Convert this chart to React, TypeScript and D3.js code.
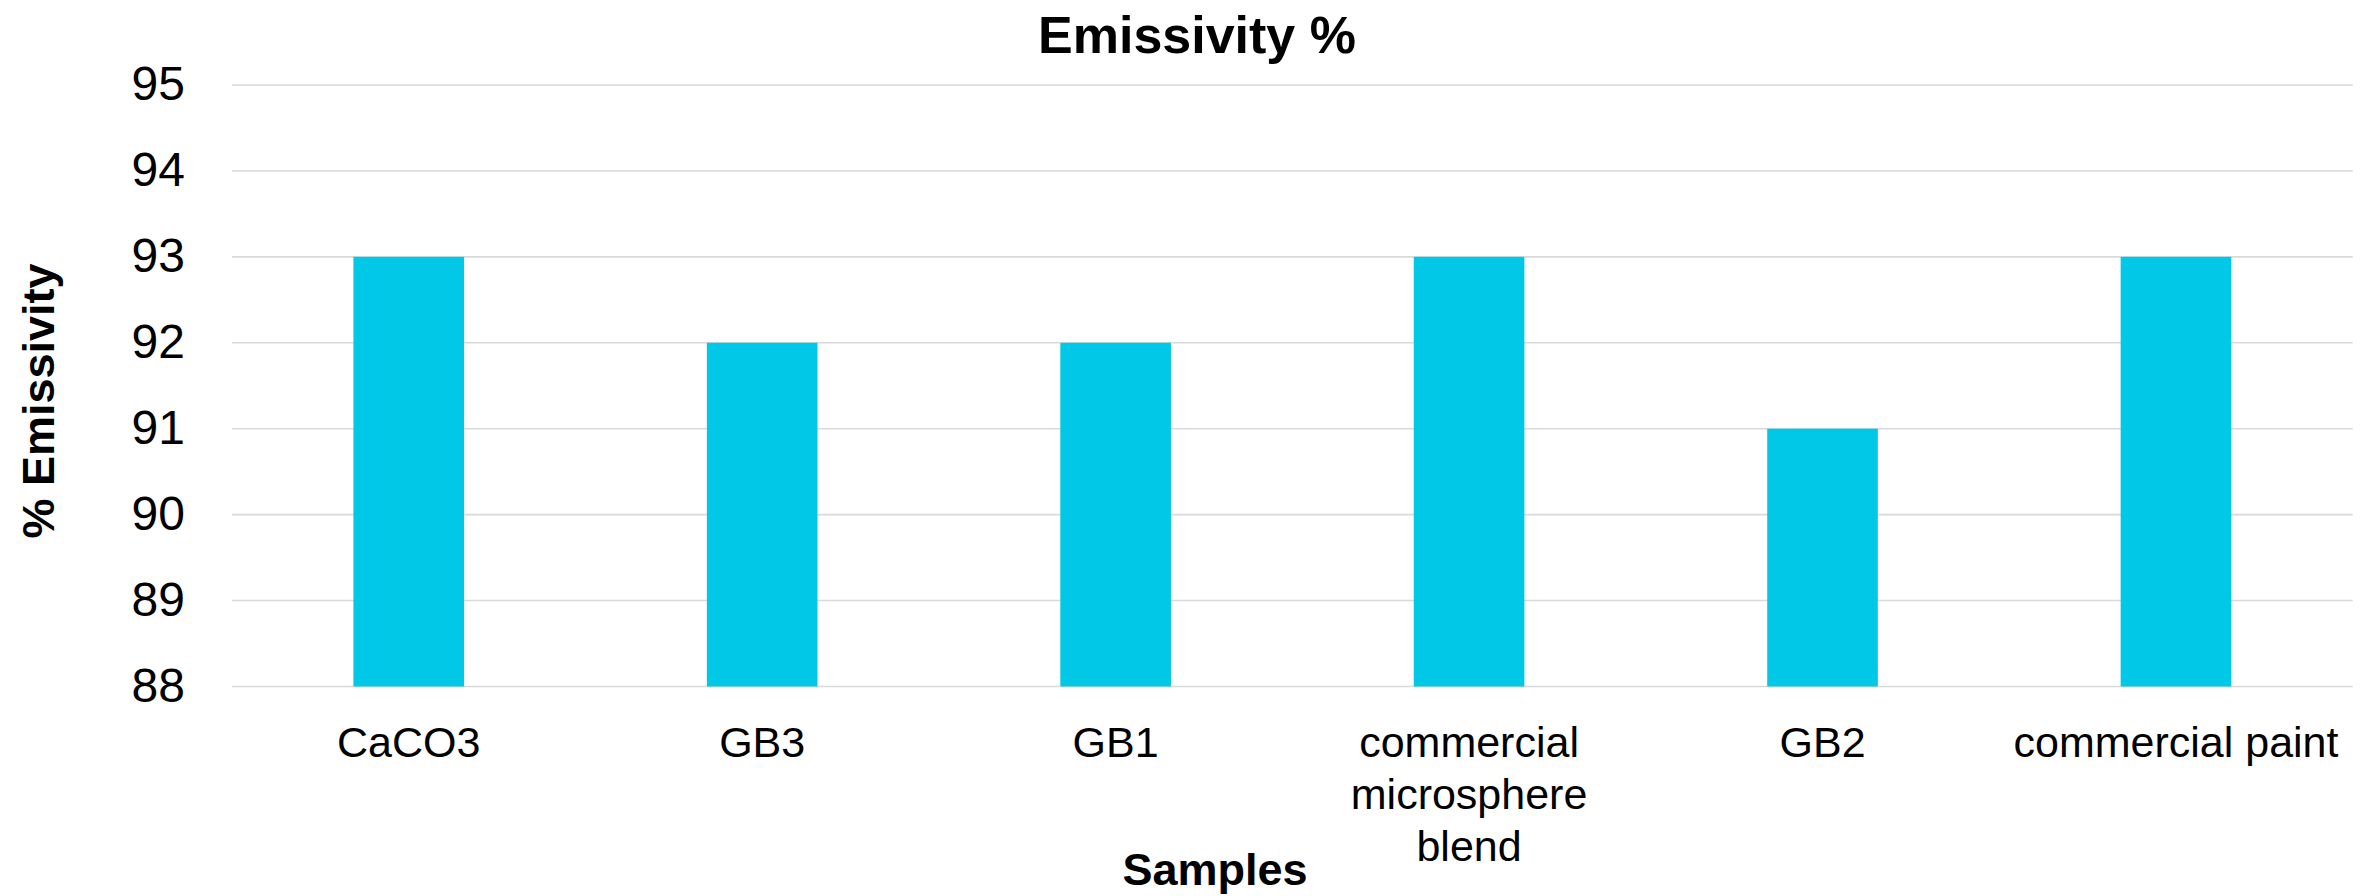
import React, { useEffect, useRef } from "react";
import * as d3 from "d3";

const categories = ["CaCO3", "GB3", "GB1", "commercial microsphere blend", "GB2", "commercial paint"];
const emissivity = [93, 92, 92, 93, 91, 93];
const yTicks = [88, 89, 90, 91, 92, 93, 94, 95];
const chartTitle = "Emissivity %";
const xTitle = "Samples";
const yTitle = "% Emissivity";

const W = 2374;
const H = 896;
const FONT = "'Liberation Sans', Arial, Helvetica, sans-serif";

export default function App() {
  const ref = useRef<SVGSVGElement | null>(null);

  useEffect(() => {
    document.body.style.margin = "0";
    const svg = d3.select(ref.current);
    svg.selectAll("*").remove();

    const left = 232, right = 2352.7, top = 85, bottom = 686.5;
    const x = d3.scaleBand<string>().domain(categories).range([left, right]).paddingInner(0.687).paddingOuter(0.3435);
    const y = d3.scaleLinear().domain([88, 95]).range([bottom, top]);

    // gridlines
    svg.append("g").selectAll("line").data(yTicks).join("line")
      .attr("x1", left).attr("x2", right)
      .attr("y1", d => y(d)).attr("y2", d => y(d))
      .attr("stroke", "#d9d9d9").attr("stroke-width", 1.6);

    // y tick labels
    svg.append("g").selectAll("text").data(yTicks).join("text")
      .attr("x", 185).attr("y", d => y(d)).attr("dy", "0.32em")
      .attr("text-anchor", "end")
      .attr("font-family", FONT).attr("font-size", 48).attr("fill", "#000")
      .text(d => String(d));

    // bars
    svg.append("g").selectAll("rect").data(categories).join("rect")
      .attr("x", d => x(d) as number)
      .attr("width", x.bandwidth())
      .attr("y", (d, i) => y(emissivity[i]))
      .attr("height", (d, i) => y(88) - y(emissivity[i]))
      .attr("fill", "#00C8E6");

    // x labels with wrapping
    const step = x.step();
    const maxW = step - 12;
    const lg = svg.append("g");
    categories.forEach(c => {
      const cx = (x(c) as number) + x.bandwidth() / 2;
      const t = lg.append("text")
        .attr("x", cx).attr("y", 757)
        .attr("text-anchor", "middle")
        .attr("font-family", FONT).attr("font-size", 43).attr("fill", "#000");
      const words = c.split(" ");
      let line: string[] = [];
      let lineNo = 0;
      let ts = t.append("tspan").attr("x", cx).attr("y", 757);
      for (const w of words) {
        line.push(w);
        ts.text(line.join(" "));
        const node = ts.node() as SVGTextContentElement;
        if (node.getComputedTextLength() > maxW && line.length > 1) {
          line.pop();
          ts.text(line.join(" "));
          line = [w];
          lineNo++;
          ts = t.append("tspan").attr("x", cx).attr("y", 757 + lineNo * 52).text(w);
        }
      }
    });

    // title
    svg.append("text")
      .attr("x", 1197).attr("y", 53)
      .attr("text-anchor", "middle")
      .attr("font-family", FONT).attr("font-weight", "bold").attr("font-size", 52)
      .attr("fill", "#000").text(chartTitle);

    // x axis title
    svg.append("text")
      .attr("x", 1215).attr("y", 885)
      .attr("text-anchor", "middle")
      .attr("font-family", FONT).attr("font-weight", "bold").attr("font-size", 45)
      .attr("fill", "#000").text(xTitle);

    // y axis title
    svg.append("text")
      .attr("transform", "translate(54,401) rotate(-90)")
      .attr("text-anchor", "middle")
      .attr("font-family", FONT).attr("font-weight", "bold").attr("font-size", 45)
      .attr("fill", "#000").text(yTitle);
  }, []);

  return (
    <svg
      ref={ref}
      width={W}
      height={H}
      style={{ position: "absolute", left: 0, top: 0, background: "#fff", display: "block" }}
    />
  );
}
